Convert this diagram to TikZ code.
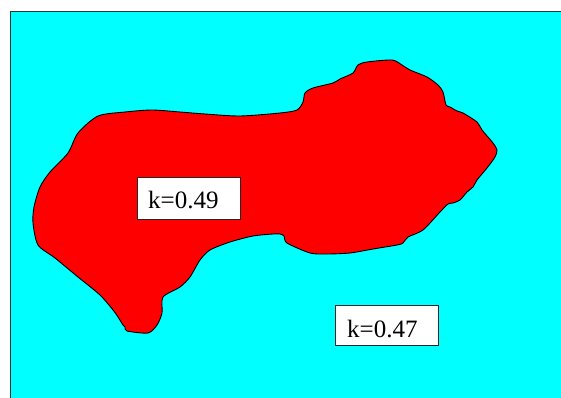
\documentclass[tikz,border=0pt]{standalone}
\usepackage{fontspec}
\setmainfont{Liberation Serif}
\definecolor{aqua}{RGB}{0,255,255}
\definecolor{blobred}{RGB}{255,0,0}
\begin{document}
\begin{tikzpicture}[x=1pt,y=-1pt,
  box/.style={draw=black!85, fill=white, line width=0.9pt, inner sep=0pt},
  lbl/.style={inner sep=0pt, font=\fontsize{25}{30}\selectfont},
  blob/.style={draw=black, fill=blobred, line width=0.9pt}]
\useasboundingbox (0,0) rectangle (561,398);
\fill[white] (0,0) rectangle (561,398);
\draw[fill=aqua, draw=black!80, line width=1pt] (10,12) rectangle (570,410);
\draw[blob] plot[smooth cycle, tension=0.45] coordinates {
 (98,116) (125,112) (152,110) (180,112) (205,114) (240,116) (280,113) (297,110)
 (303,102) (305,93) (313,88) (333,83) (340,79) (353,73) (358,65) (367,62)
 (392,60) (402,65) (410,70) (427,77) (438,85) (443,92) (446,105) (450,107)
 (457,111) (463,113) (477,122) (482,130) (493,143) (497,150) (495,157) (487,168)
 (477,180) (473,187) (467,192) (460,200) (453,203) (448,204) (440,212) (423,230)
 (408,237) (403,243) (397,245) (373,249) (350,253) (327,254) (310,253) (287,243)
 (284,236) (280,234) (273,234) (253,236) (230,242) (210,250) (200,260) (190,277)
 (180,287) (163,297) (162,313) (157,325) (148,333) (127,331) (125,327) (123,325)
 (118,317) (113,310) (100,295) (78,277) (55,258) (38,245) (33,223) (34,207)
 (40,187) (50,172) (68,153) (78,133)};
\node[box, minimum width=103pt, minimum height=42pt] (b1) at (188.5,198) {};
\node[lbl, anchor=base west] (t1) at (148,208) {k=0.49};
\node[box, minimum width=103pt, minimum height=40pt] (b2) at (386.5,325) {};
\node[lbl, anchor=base west] (t2) at (347,337) {k=0.47};
\end{tikzpicture}
\end{document}
